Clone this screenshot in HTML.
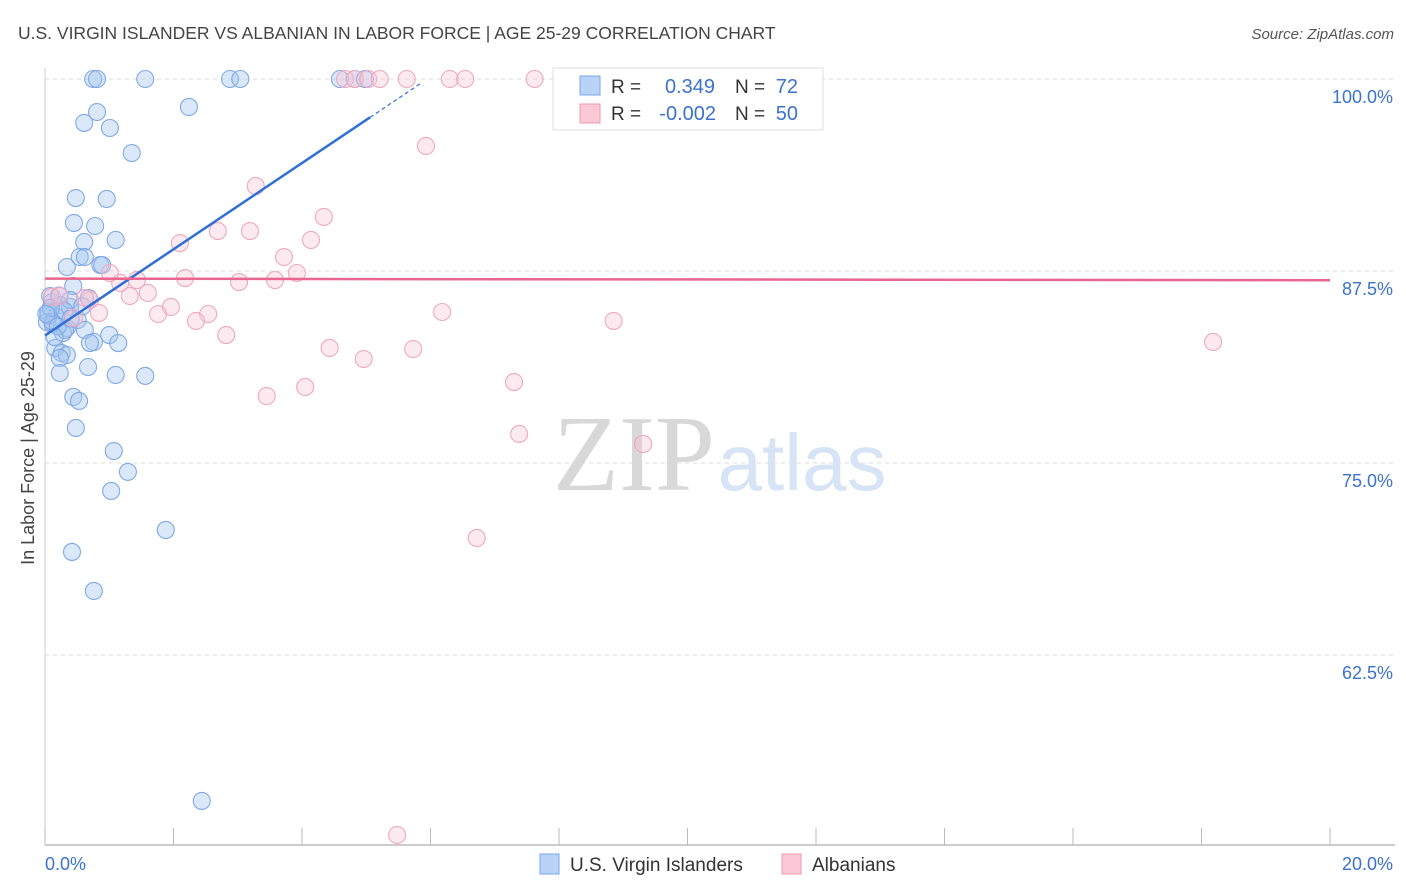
<!DOCTYPE html>
<html><head><meta charset="utf-8"><style>
body{margin:0;background:#fff;font-family:"Liberation Sans",sans-serif;}
#wrap{position:relative;width:1406px;height:892px;overflow:hidden;}
</style></head><body>
<div id="wrap">
<svg id="svg" width="1406" height="892" xmlns="http://www.w3.org/2000/svg">
<text x="18" y="39" font-size="17.5" fill="#444" font-family="Liberation Sans, sans-serif">U.S. VIRGIN ISLANDER VS ALBANIAN IN LABOR FORCE | AGE 25-29 CORRELATION CHART</text>
<text x="1394" y="39" font-size="15" fill="#555" font-style="italic" text-anchor="end">Source: ZipAtlas.com</text>
<text x="34" y="458" font-size="18" fill="#444" text-anchor="middle" transform="rotate(-90 34 458)">In Labor Force | Age 25-29</text>
<g id="grid"></g>
<text x="634" y="490" font-size="108" fill="#d8d8d8" font-family="Liberation Serif, serif" text-anchor="middle">ZIP</text>
<text x="802" y="490" font-size="80" fill="#d6e4f5" text-anchor="middle">atlas</text>
<g id="pts"></g>
<g id="lines"></g>
<g>
<rect x="553" y="68" width="270" height="62" fill="#fff" stroke="#ddd"/>
<rect x="580" y="76" width="20" height="19" fill="#b8d3f5" stroke="#7aa7e6"/>
<rect x="580" y="104" width="20" height="19" fill="#fac8d6" stroke="#ef9ab3"/>
<text x="611" y="93" font-size="19" fill="#333">R =</text>
<text x="715" y="93" font-size="20" fill="#3b72d0" text-anchor="end">0.349</text>
<text x="735" y="93" font-size="19" fill="#333">N =</text>
<text x="798" y="93" font-size="20" fill="#3b72d0" text-anchor="end">72</text>
<text x="611" y="120" font-size="19" fill="#333">R =</text>
<text x="716" y="120" font-size="20" fill="#3b72d0" text-anchor="end">-0.002</text>
<text x="735" y="120" font-size="19" fill="#333">N =</text>
<text x="798" y="120" font-size="20" fill="#3b72d0" text-anchor="end">50</text>
</g>
<g>
<rect x="540" y="854" width="19" height="20" fill="#b8d3f5" stroke="#7aa7e6"/>
<text x="570" y="871" font-size="19" fill="#333">U.S. Virgin Islanders</text>
<rect x="782" y="854" width="19" height="20" fill="#fac8d6" stroke="#ef9ab3"/>
<text x="812" y="871" font-size="19" fill="#333">Albanians</text>
</g>
</svg>
</div>
<script>
const yTicks=[100,87.5,75,62.5];
const yTickLabels=["100.0%","87.5%","75.0%","62.5%"];
const xLabels=["0.0%","20.0%"];
const blueX=[0.75,0.81,1.56,2.88,3.04,4.59,4.82,4.98,2.24,0.81,0.61,1.01,1.35,0.48,0.96,0.45,0.78,1.10,0.61,0.54,0.62,0.34,0.86,0.89,0.44,0.68,0.11,0.23,0.39,0.05,0.17,0.51,0.03,0.12,0.34,0.62,0.28,1.00,1.14,0.76,0.70,0.16,0.26,0.34,0.23,0.67,0.23,1.10,1.56,0.44,0.53,0.48,1.07,1.29,1.03,1.88,0.42,0.76,2.44,0.08,0.39,0.31,0.05,0.12,0.20,0.30,0.09,0.15,0.40,0.22,0.58,0.02];
const blueY=[100,100,100,100,100,100,100,100,98.18,97.85,97.14,96.81,95.18,92.25,92.19,90.63,90.43,89.52,89.39,88.41,88.41,87.76,87.89,87.89,86.52,85.74,85.48,85.29,85.16,84.83,84.51,84.31,84.18,84.05,83.79,83.66,83.46,83.33,82.81,82.88,82.81,82.49,82.16,82.03,81.84,81.25,80.86,80.73,80.67,79.30,79.04,77.28,75.78,74.42,73.18,70.64,69.21,66.67,53.0,85.87,85.61,83.66,84.6,84.2,83.9,84.9,85.1,83.2,84.4,85.9,85.2,84.7];
const pinkX=[4.67,4.82,5.03,5.21,5.63,6.30,6.54,7.62,8.20,5.93,3.28,4.34,2.10,3.19,2.69,4.14,3.72,3.92,1.01,1.43,2.18,3.02,3.58,1.17,0.11,0.23,0.70,1.32,1.60,1.96,1.76,2.54,2.35,0.84,0.45,2.82,6.18,8.85,4.43,4.96,5.73,4.05,3.45,7.30,7.38,9.31,6.72,18.18,5.48,0.62];
const pinkY=[100,100,100,100,100,100,100,100,100,95.64,93.03,91.02,89.32,90.10,90.10,89.52,88.41,87.37,87.37,86.91,87.04,86.78,86.91,86.72,85.81,85.87,85.61,85.87,86.07,85.16,84.70,84.70,84.25,84.77,84.44,83.33,84.83,84.25,82.49,81.77,82.42,79.95,79.36,80.27,76.89,76.24,70.12,82.88,50.78,85.74];
const blueLine=[2.807,83.3];
const pinkLine=[-0.005,87.0];
const X0=45,X1=1330,Y100=79,PXPER=15.36;
const sx=v=>X0+(v/20)*(X1-X0);
const sy=v=>Y100+(100-v)*PXPER;
const NS="http://www.w3.org/2000/svg";
function mk(t,a){const e=document.createElementNS(NS,t);for(const k in a)e.setAttribute(k,a[k]);return e;}
const grid=document.getElementById('grid');
grid.appendChild(mk('line',{x1:45,y1:845,x2:1395,y2:845,stroke:'#bbb','stroke-width':1.5}));
grid.appendChild(mk('line',{x1:45,y1:68,x2:45,y2:845,stroke:'#ccc','stroke-width':1}));
for(let i=0;i<=10;i++){const x=X0+i*(X1-X0)/10;const l=mk('line',{x1:x,y1:828,x2:x,y2:845,stroke:'#bbb'});


grid.appendChild(l);}
yTicks.forEach((v,i)=>{const y=sy(v);
const l=mk('line',{x1:45,y1:y,x2:1395,y2:y,stroke:'#ddd','stroke-dasharray':'4,4'});


grid.appendChild(l);
const t=mk('text',{x:1393,y:y+24,'font-size':18,fill:'#3b72d0','text-anchor':'end'});t.textContent=yTickLabels[i];


grid.appendChild(t);});
[[45,'start'],[1393,'end']].forEach((p,i)=>{const t=mk('text',{x:p[0],y:870,'font-size':18,fill:'#3b72d0','text-anchor':p[1]});t.textContent=xLabels[i];


grid.appendChild(t);});
const pts=document.getElementById('pts');
blueX.forEach((v,i)=>{const c=mk('circle',{cx:sx(v),cy:sy(blueY[i]),r:8.5,fill:'rgba(165,198,240,0.4)',stroke:'#7fa9e6','stroke-width':1.1});


pts.appendChild(c);});
pinkX.forEach((v,i)=>{const c=mk('circle',{cx:sx(v),cy:sy(pinkY[i]),r:8.5,fill:'rgba(248,195,212,0.35)',stroke:'#efa8be','stroke-width':1.1});


pts.appendChild(c);});
const lines=document.getElementById('lines');
const bl=x=>blueLine[1]+blueLine[0]*x;
let l1=mk('line',{x1:sx(0),y1:sy(bl(0)),x2:sx(5.06),y2:sy(bl(5.06)),stroke:'#2f6fd6','stroke-width':2.5});


lines.appendChild(l1);
let l2=mk('line',{x1:sx(5.06),y1:sy(bl(5.06)),x2:sx(5.84),y2:sy(bl(5.84)),stroke:'#2f6fd6','stroke-width':1.2,'stroke-dasharray':'4,3'});


lines.appendChild(l2);
const pl=x=>pinkLine[1]+pinkLine[0]*x;
let l3=mk('line',{x1:sx(0),y1:sy(pl(0)),x2:sx(20),y2:sy(pl(20)),stroke:'#e8668f','stroke-width':2.5});


lines.appendChild(l3);
</script>
</body></html>
